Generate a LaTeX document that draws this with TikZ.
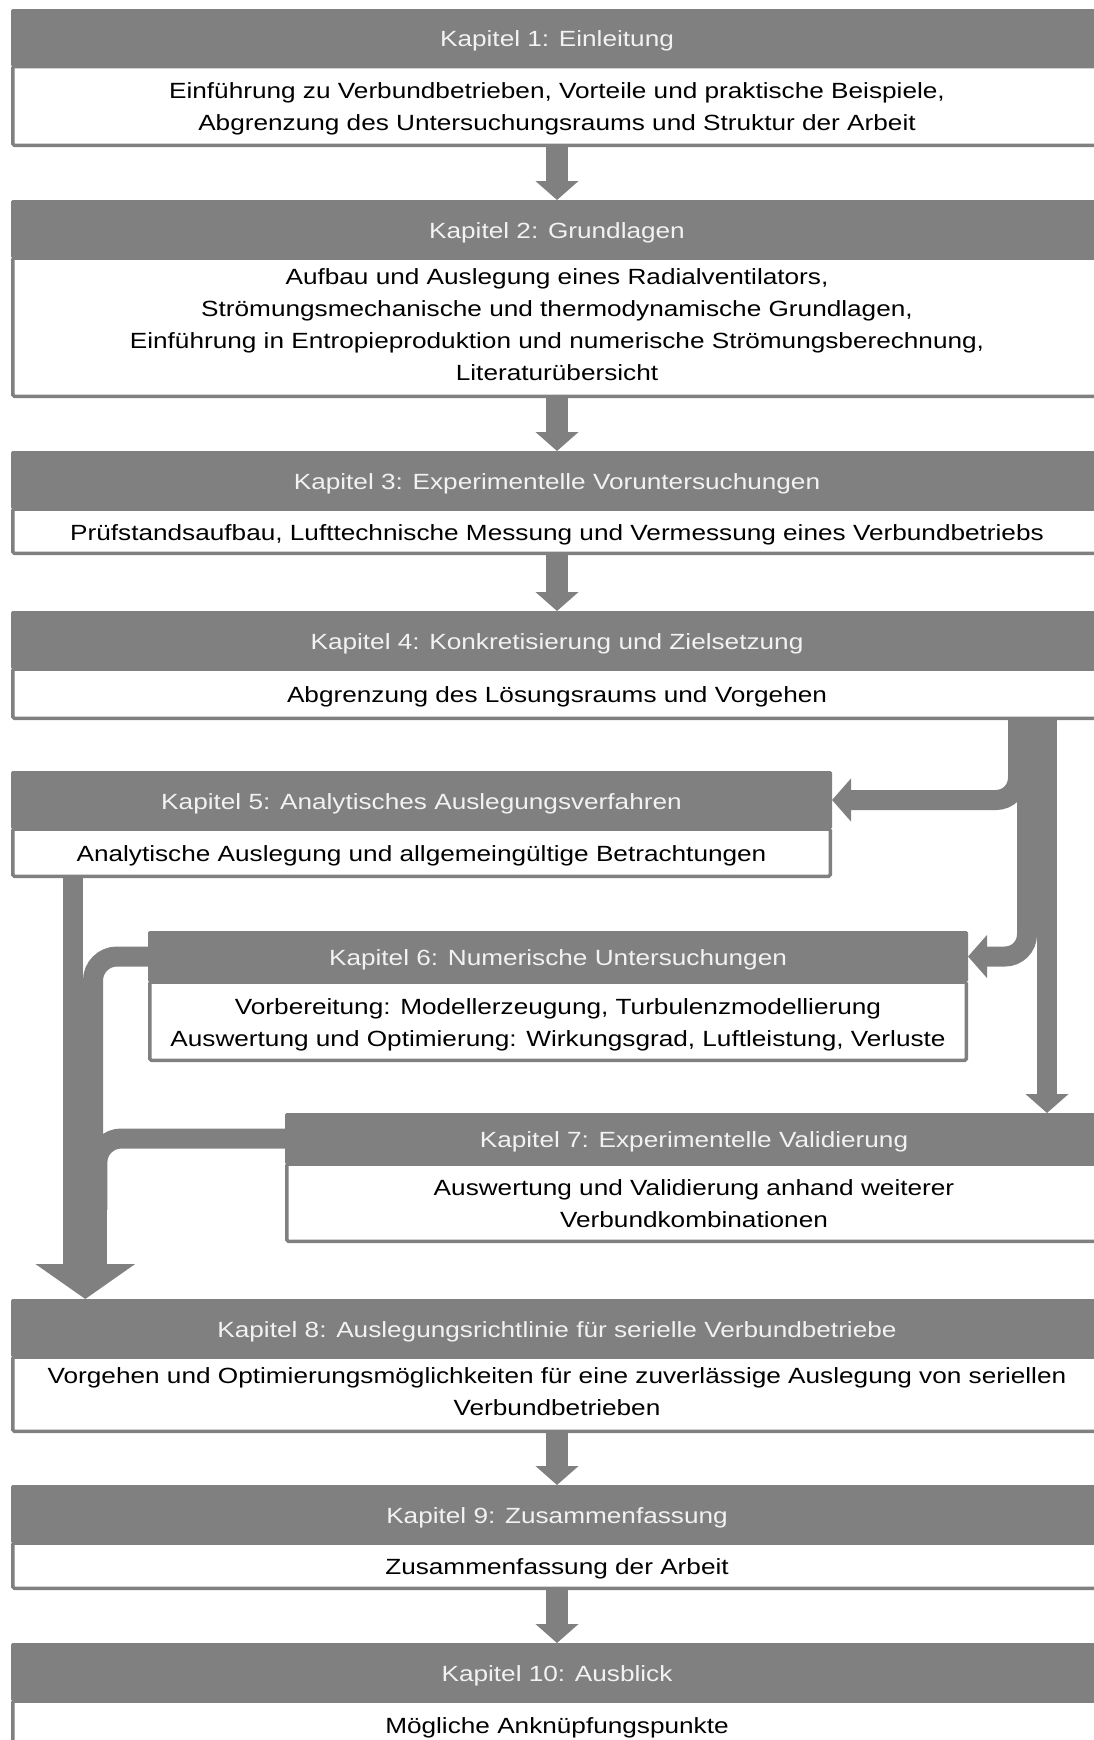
\documentclass[tikz,border=0pt]{standalone}
\usepackage{fontspec}
\setmainfont{Liberation Sans}[FakeStretch=1.19]
\usetikzlibrary{arrows.meta}
\definecolor{kapgrau}{RGB}{128,128,128}
\definecolor{kapschrift}{RGB}{242,242,242}
\newcommand\oben{\rule{0pt}{23pt}}

\begin{document}
\begin{tikzpicture}[x=1pt,y=-1pt]
		\tikzstyle{every node}+=[inner sep=0pt, outer sep=0pt, font=\fontsize{22}{32}\selectfont, execute at begin node={\rule{0pt}{23pt}}, execute at end node={\rule[-5pt]{0pt}{5pt}}]
		\tikzstyle{kopf}=[anchor=north west, fill=kapgrau, text=kapschrift, minimum height=58pt, rounded corners=1.5pt]
		\tikzstyle{inhalt}=[anchor=north west, draw=kapgrau, line width=3.5pt, fill=white, align=center, rounded corners=1.5pt]
		\tikzstyle{band}=[draw=kapgrau, line width=20pt]
		\tikzstyle{pfeil}=[draw=kapgrau, line width=21.6pt, -{Triangle[width=42pt,length=19pt]}]
		\useasboundingbox (0,0) rectangle (1094,1740);
		\clip (0,0) rectangle (1094,1740);
		\node [inhalt, minimum width=1088.5pt, minimum height=78.75pt] (i1) at (12.75,66.5) {\oben Einführung zu Verbundbetrieben, Vorteile und praktische Beispiele,\\Abgrenzung des Untersuchungsraums und Struktur der Arbeit};
		\node [kopf, minimum width=1092pt, minimum height=57.5pt] (k1) at (11,9) {Kapitel 1: Einleitung};
		\node [inhalt, minimum width=1088.5pt, minimum height=138.25pt] (i2) at (12.75,258) {Aufbau und Auslegung eines Radialventilators,\\Strömungsmechanische und thermodynamische Grundlagen,\\Einführung in Entropieproduktion und numerische Strömungsberechnung,\\Literaturübersicht};
		\node [kopf, minimum width=1092pt] (k2) at (11,200) {Kapitel 2: Grundlagen};
		\node [inhalt, minimum width=1088.5pt, minimum height=44.25pt] (i3) at (12.75,509) {Prüfstandsaufbau, Lufttechnische Messung und Vermessung eines Verbundbetriebs};
		\node [kopf, minimum width=1092pt] (k3) at (11,451) {Kapitel 3: Experimentelle Voruntersuchungen};
		\node [inhalt, minimum width=1088.5pt, minimum height=49.25pt] (i4) at (12.75,669) {Abgrenzung des Lösungsraums und Vorgehen};
		\node [kopf, minimum width=1092pt] (k4) at (11,611) {Kapitel 4: Konkretisierung und Zielsetzung};
		\node [inhalt, minimum width=817.5pt, minimum height=47.25pt] (i5) at (12.75,829) {Analytische Auslegung und allgemeingültige Betrachtungen};
		\node [kopf, minimum width=821pt] (k5) at (11,771) {Kapitel 5: Analytisches Auslegungsverfahren};
		\node [inhalt, minimum width=816.5pt, minimum height=78.25pt] (i6) at (149.75,982) {\oben Vorbereitung: Modellerzeugung, Turbulenzmodellierung\\Auswertung und Optimierung: Wirkungsgrad, Luftleistung, Verluste};
		\node [kopf, minimum width=820pt, minimum height=51pt] (k6) at (148,931) {Kapitel 6: Numerische Untersuchungen};
		\node [inhalt, minimum width=814.5pt, minimum height=77.25pt] (i7) at (286.75,1164) {\oben Auswertung und Validierung anhand weiterer\\Verbundkombinationen};
		\node [kopf, minimum width=818pt, minimum height=51pt] (k7) at (285,1113) {Kapitel 7: Experimentelle Validierung};
		\node [inhalt, minimum width=1088.5pt, minimum height=74.25pt] (i8) at (12.75,1357) {Vorgehen und Optimierungsmöglichkeiten für eine zuverlässige Auslegung von seriellen\\Verbundbetrieben};
		\node [kopf, minimum width=1092pt] (k8) at (11,1299) {Kapitel 8: Auslegungsrichtlinie für serielle Verbundbetriebe};
		\node [inhalt, minimum width=1088.5pt, minimum height=45.25pt] (i9) at (12.75,1543) {Zusammenfassung der Arbeit};
		\node [kopf, minimum width=1092pt] (k9) at (11,1485) {Kapitel 9: Zusammenfassung};
		\node [inhalt, minimum width=1088.5pt, minimum height=46pt] (i10) at (12.75,1701) {Mögliche Anknüpfungspunkte};
		\node [kopf, minimum width=1092pt] (k10) at (11,1643) {Kapitel 10: Ausblick};
		\draw [pfeil] (i1.south) -- (k2.north);
		\draw [pfeil] (i2.south) -- (k3.north);
		\draw [pfeil] (i3.south) -- (k4.north);
		\draw [pfeil] (i8.south) -- (k9.north);
		\draw [pfeil] (i9.south) -- (k10.north);
		\coordinate (r5) at (1018,0);
		\coordinate (r6) at (1027,0);
		\coordinate (r7) at (1047,0);
		\draw [pfeil, line width=20pt, rounded corners=22pt] (i4.south -| r5) |- (k5.east);
		\draw [pfeil, line width=20pt, rounded corners=22pt] (i4.south -| r6) |- (k6.east);
		\draw [pfeil, line width=20pt] (i4.south -| r7) -- (k7.north -| r7);
		\coordinate (l5) at (73.3,0);
		\coordinate (l6) at (93,0);
		\coordinate (l7) at (97.3,0);
		\coordinate (sammel) at (85.3,1210);
		\draw [band] (i5.south -| l5) -- (sammel -| l5);
		\draw [band, rounded corners=24pt] (k6.west) -| (sammel -| l6);
		\draw [band, rounded corners=24pt] (k7.west) -| (sammel -| l7);
		\draw [pfeil, line width=44pt, -{Triangle[width=98pt,length=35pt]}] (sammel) -- (k8.north -| sammel);
\end{tikzpicture}
\end{document}
